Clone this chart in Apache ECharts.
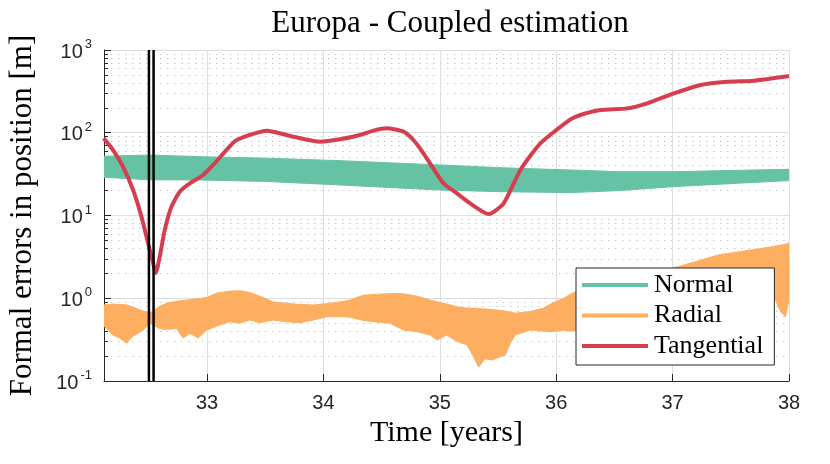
<!DOCTYPE html>
<html>
<head>
<meta charset="utf-8">
<script src="https://cdn.jsdelivr.net/npm/echarts@6/dist/echarts.min.js"></script>
<style>html,body{margin:0;padding:0;background:#fff;}#c{width:830px;height:464px;}</style>
</head>
<body>
<div id="c"></div>
<script>
// ---- data ----
const xTicks = [33, 34, 35, 36, 37, 38];
const yMajor = [0.1, 1, 10, 100, 1000];
const yMinor = [0.2,0.3,0.4,0.5,0.6,0.7,0.8,0.9, 2,3,4,5,6,7,8,9, 20,30,40,50,60,70,80,90, 200,300,400,500,600,700,800,900];
const eventLines = [32.50, 32.54];

const normalT  = [32.114, 32.507, 32.937, 33.51, 34.142, 35.0, 35.52, 36.12, 36.55, 37.0, 38.0];
const normalLo = [29.0,   27.0,   26.9,   25.8,  23.4,   20.3, 19.4,  18.9,  20.0,  22.3, 26.4];
const normalHi = [52.0,   53.8,   51.4,   49.3,  46.0,   40.8, 37.8,  35.5,  33.8,  33.8, 36.2];

const radialT  = [32.114,32.19,32.25,32.307,32.364,32.45,32.507,32.593,32.65,32.737,32.794,32.852,32.923,32.995,33.08,33.196,33.282,33.368,33.454,33.568,33.683,33.798,33.913,34.028,34.142,34.228,34.343,34.487,34.573,34.687,34.802,34.917,34.974,35.06,35.147,35.233,35.29,35.333,35.39,35.448,35.491,35.562,35.605,35.648,35.777,35.892,35.95,36.064,36.122,36.17,36.38,36.72,37.07,37.39,37.67,37.84,37.93,37.97,38.0];
const radialLo = [0.46,0.36,0.33,0.286,0.35,0.41,0.50,0.43,0.42,0.43,0.33,0.377,0.33,0.41,0.46,0.52,0.50,0.546,0.506,0.546,0.52,0.506,0.546,0.598,0.60,0.59,0.54,0.51,0.498,0.413,0.394,0.36,0.313,0.36,0.30,0.274,0.194,0.148,0.186,0.179,0.19,0.206,0.286,0.36,0.413,0.40,0.394,0.41,0.40,0.41,0.68,0.87,1.12,1.53,1.75,1.30,0.68,0.60,0.95];
const radialHi = [0.83,0.85,0.84,0.83,0.78,0.70,0.66,0.80,0.87,0.92,0.94,0.96,0.99,1.02,1.15,1.22,1.23,1.17,1.06,0.90,0.87,0.84,0.83,0.86,0.90,0.95,1.09,1.12,1.14,1.13,1.06,0.95,0.91,0.85,0.79,0.76,0.76,0.75,0.74,0.73,0.72,0.70,0.68,0.66,0.69,0.76,0.85,1.00,1.12,1.20,1.49,1.91,2.45,3.33,3.83,4.15,4.40,4.50,4.66];

const tangT = [32.111,32.191,32.277,32.364,32.436,32.493,32.536,32.559,32.593,32.636,32.694,32.765,32.851,32.966,33.052,33.167,33.253,33.512,33.741,33.970,34.142,34.314,34.43,34.544,34.687,34.773,34.859,35.031,35.147,35.261,35.419,35.548,35.692,35.864,36.122,36.208,36.380,36.610,36.782,37.011,37.241,37.470,37.699,38.0];
const tangV = [85.7,61.9,38.9,20.3,9.68,4.61,2.64,2.02,3.18,6.68,12.8,19.4,24.5,30.9,40.8,61.9,81.7,106,89.6,78,83.3,94,106,113,103,81.7,56.4,24.5,18.5,14.0,10.4,14.0,35.5,74.5,145,164,188,197,227,299,378,414,426,485];

// ---- styling ----
const serif = 'Liberation Serif';
const sans = 'Liberation Sans';
const cNormal = '#66c2a5', cRadial = '#fdae61', cTang = '#d53e4f';
const X_MIN = 32.114, X_MAX = 38;

function rows(ts, lo, hi) { return ts.map((t, i) => [t, lo[i], hi[i]]); }

function bandRenderer(ts, lo, hi, color) {
  return function (params, api) {
    if (params.dataIndex !== 0) return null;
    const pts = [];
    for (let i = 0; i < ts.length; i++) pts.push(api.coord([ts[i], hi[i]]));
    for (let i = ts.length - 1; i >= 0; i--) pts.push(api.coord([ts[i], lo[i]]));
    return { type: 'polygon', shape: { points: pts }, style: { fill: color, stroke: color, lineWidth: 1 } };
  };
}

function supLabel(v) {
  const e = Math.round(Math.log10(v));
  return '{b|10}{s|' + e + '}';
}

const chart = echarts.init(document.getElementById('c'), null, { renderer: 'canvas' });
chart.setOption({
  animation: false,
  backgroundColor: '#fff',
  title: {
    text: 'Europa - Coupled estimation',
    left: 445, top: 3, textAlign: 'center',
    textStyle: { fontFamily: serif, fontSize: 31, fontWeight: 'normal', color: '#000' }
  },
  grid: { left: 104, right: 41, top: 50, bottom: 83, outerBoundsMode: 'none' },
  xAxis: {
    type: 'value', min: X_MIN, max: X_MAX,
    name: 'Time [years]', nameLocation: 'middle', nameGap: 36,
    nameTextStyle: { fontFamily: serif, fontSize: 30, color: '#000' },
    axisLine: { show: true, onZero: false, lineStyle: { color: '#262626', width: 1 } },
    axisTick: { show: true, inside: true, length: 7, customValues: xTicks, lineStyle: { color: '#262626' } },
    axisLabel: { customValues: xTicks, margin: 12, fontFamily: sans, fontSize: 20, color: '#262626', formatter: v => String(v) },
    splitLine: { show: true, lineStyle: { color: '#dedede', width: 1 } }
  },
  yAxis: [{
    type: 'log', logBase: 10, min: 0.1, max: 1000,
    name: 'Formal errors in position [m]', nameLocation: 'middle', nameGap: 66,
    nameTextStyle: { fontFamily: serif, fontSize: 31, color: '#000' },
    axisLine: { show: true, lineStyle: { color: '#262626', width: 1 } },
    axisTick: { show: true, inside: true, length: 7, customValues: yMajor, lineStyle: { color: '#262626' } },
    axisLabel: {
      customValues: yMajor, margin: 12, formatter: supLabel,
      rich: {
        b: { fontFamily: sans, fontSize: 20, color: '#262626', lineHeight: 24, verticalAlign: 'bottom' },
        s: { fontFamily: sans, fontSize: 13, color: '#262626', lineHeight: 24, verticalAlign: 'top', padding: [0, 0, 0, 2] }
      }
    },
    splitLine: { show: true, lineStyle: { color: '#dedede', width: 1 } }
  }, {
    type: 'log', logBase: 10, min: 0.1, max: 1000, position: 'left',
    axisLine: { show: false },
    axisTick: { show: true, inside: true, length: 4, customValues: yMinor, lineStyle: { color: '#262626' } },
    axisLabel: { show: false },
    splitLine: { show: true, lineStyle: { color: '#c8c8c8', width: 1, type: [1.5, 5.5] } }
  }],
  legend: {
    data: ['Normal', 'Radial', 'Tangential'],
    orient: 'vertical', left: 576, top: 268,
    backgroundColor: '#fff', borderColor: '#262626', borderWidth: 1, borderRadius: 0,
    padding: [4, 11, 6, 6], itemGap: 4.5,
    icon: 'rect', itemWidth: 66, itemHeight: 4,
    textStyle: { fontFamily: serif, fontSize: 26, color: '#000', lineHeight: 25, padding: [0, 0, 0, 1] }
  },
  series: [{
    name: 'Normal', type: 'custom', clip: true, z: 2,
    itemStyle: { color: cNormal }, color: cNormal,
    data: rows(normalT, normalLo, normalHi), encode: { x: 0, y: 1 },
    renderItem: bandRenderer(normalT, normalLo, normalHi, cNormal)
  }, {
    name: 'Radial', type: 'custom', clip: true, z: 2,
    itemStyle: { color: cRadial }, color: cRadial,
    data: rows(radialT, radialLo, radialHi), encode: { x: 0, y: 1 },
    renderItem: bandRenderer(radialT, radialLo, radialHi, cRadial)
  }, {
    name: 'Tangential', type: 'line', z: 3, color: cTang,
    data: tangT.map((t, i) => [t, tangV[i]]),
    showSymbol: false, symbol: 'none', smooth: 0.2,
    itemStyle: { color: cTang },
    lineStyle: { color: cTang, width: 4 }
  }, {
    name: 'events', type: 'custom', clip: true, z: 4,
    data: eventLines.map(x => [x]), encode: { x: 0 },
    renderItem: function (params, api) {
      const x = api.value(0);
      const p1 = api.coord([x, 0.1]), p2 = api.coord([x, 1000]);
      return { type: 'line', shape: { x1: p1[0], y1: p1[1], x2: p2[0], y2: p2[1] }, style: { stroke: '#000', lineWidth: 2.5 } };
    }
  }]
});
</script>
</body>
</html>
